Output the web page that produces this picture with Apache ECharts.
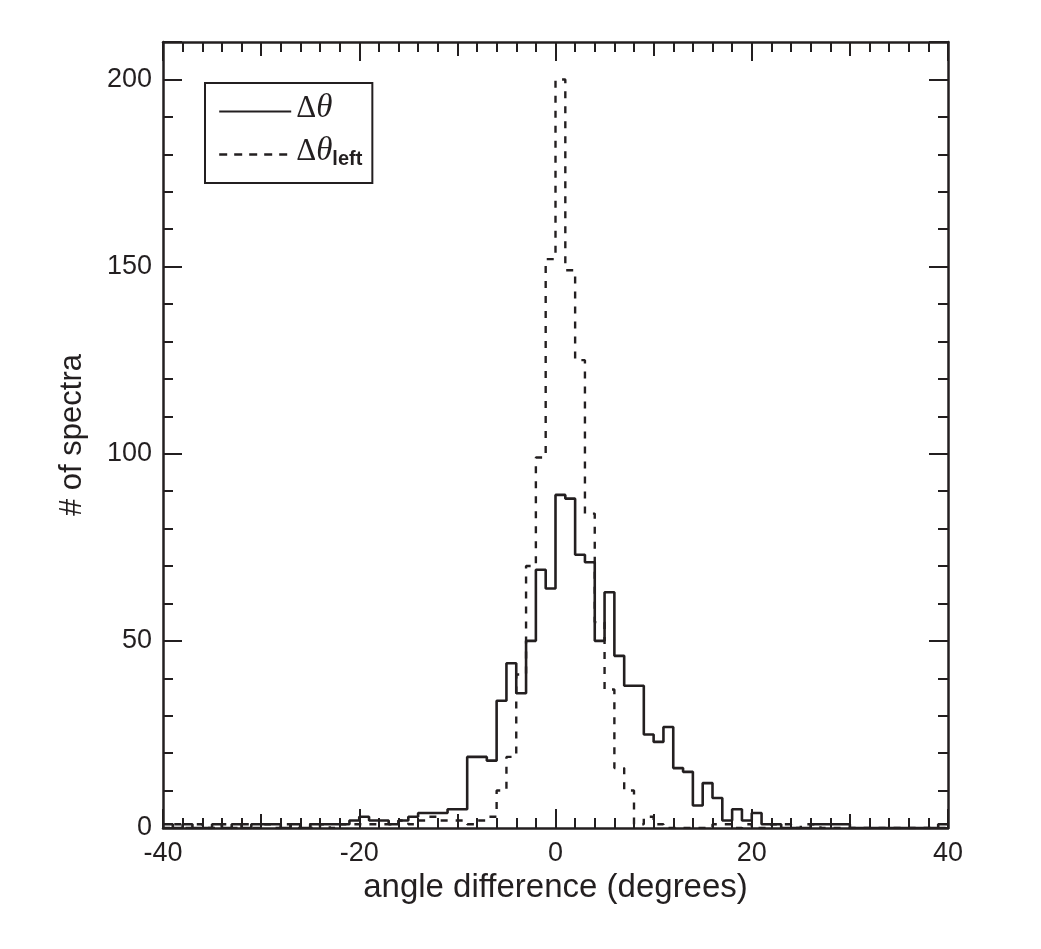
<!DOCTYPE html>
<html>
<head>
<meta charset="utf-8">
<script src="https://cdn.jsdelivr.net/npm/echarts@6/dist/echarts.min.js"></script>
<style>
html,body{margin:0;padding:0;background:#fff;}
#chart{width:1041px;height:949px;}
</style>
</head>
<body>
<div id="chart"></div>
<script>
// Histogram bins: 1-degree wide, from -40 to 40 (left edges)
var binStart = -40;
var binWidth = 1;
// Δθ counts per bin, bins [-40,-39] ... [39,40]
var deltaTheta = [
  1,0,1,0,0,1,0,1,0,1,      // -40 .. -31
  1,1,0,1,0,1,1,1,1,2,      // -30 .. -21
  3,2,2,1,2,3,4,4,4,5,      // -20 .. -11
  5,19,19,18,34,44,36,50,69,64, // -10 .. -1
  89,88,73,71,50,63,46,38,38,25, // 0 .. 9
  23,27,16,15,6,12,8,2,5,2,  // 10 .. 19
  4,1,1,0,0,0,1,1,1,1,       // 20 .. 29
  0,0,0,0,0,0,0,0,0,1        // 30 .. 39
];
// Δθ_left counts per bin
var deltaThetaLeft = [
  0,1,0,1,0,0,1,0,1,0,       // -40 .. -31
  1,0,1,0,1,0,1,0,1,1,       // -30 .. -21
  1,1,1,1,2,1,2,3,2,2,       // -20 .. -11
  2,1,2,3,10,19,41,70,99,152, // -10 .. -1
  200,149,125,84,55,37,16,10,1,3, // 0 .. 9
  1,0,0,0,0,0,1,1,0,1,       // 10 .. 19
  0,0,1,1,0,1,1,0,0,0,       // 20 .. 29
  0,0,0,0,0,0,0,0,0,0        // 30 .. 39
];
var xTickLabels = [-40, -20, 0, 20, 40];
var yTickLabels = [0, 50, 100, 150, 200];

function toSteps(vals) {
  var out = [];
  for (var i = 0; i < vals.length; i++) out.push([binStart + i * binWidth, vals[i]]);
  out.push([binStart + vals.length * binWidth, vals[vals.length - 1]]);
  return out;
}

var C = '#231f20';
var lab = {fontFamily: 'Liberation Sans', fontSize: 27, color: C};

function xAx(pos, interval, len, opts) {
  var a = {
    type: 'value', position: pos, min: -40, max: 40, interval: interval,
    axisLine: {show: false, onZero: false},
    axisTick: {show: true, inside: true, length: len, lineStyle: {color: C, width: 2}},
    axisLabel: {show: false},
    splitLine: {show: false}
  };
  for (var k in opts) a[k] = opts[k];
  return a;
}
function yAx(pos, interval, len, opts) {
  var a = {
    type: 'value', position: pos, min: 0, max: 210, interval: interval,
    axisLine: {show: false, onZero: false},
    axisTick: {show: true, inside: true, length: len, lineStyle: {color: C, width: 2}},
    axisLabel: {show: false},
    splitLine: {show: false}
  };
  for (var k in opts) a[k] = opts[k];
  return a;
}

var chart = echarts.init(document.getElementById('chart'), null, {renderer: 'canvas'});
var option = {
  animation: false,
  backgroundColor: '#fff',
  grid: {left: 163, right: 93, top: 42, bottom: 121, containLabel: false},
  xAxis: [
    xAx('bottom', 20, 19, {
      axisLine: {show: true, onZero: false, lineStyle: {color: C, width: 2.5}},
      axisLabel: {show: true, margin: 12, fontFamily: lab.fontFamily, fontSize: lab.fontSize, color: C,
        formatter: function (v) { return xTickLabels.indexOf(v) >= 0 ? String(v) : ''; }},
      name: 'angle difference (degrees)', nameLocation: 'middle', nameGap: 42,
      nameTextStyle: {fontFamily: 'Liberation Sans', fontSize: 33, color: C}
    }),
    xAx('bottom', 10, 14, {}),
    xAx('bottom', 2, 10, {}),
    xAx('top', 20, 19, {axisLine: {show: true, onZero: false, lineStyle: {color: C, width: 2.5}}}),
    xAx('top', 10, 14, {}),
    xAx('top', 2, 10, {})
  ],
  yAxis: [
    yAx('left', 50, 19, {
      axisLine: {show: true, onZero: false, lineStyle: {color: C, width: 2.5}},
      axisLabel: {show: true, margin: 11, fontFamily: lab.fontFamily, fontSize: lab.fontSize, color: C,
        formatter: function (v) { return yTickLabels.indexOf(v) >= 0 ? String(v) : ''; }},
      name: '# of spectra', nameLocation: 'middle', nameGap: 75,
      nameTextStyle: {fontFamily: 'Liberation Sans', fontSize: 31, color: C}
    }),
    yAx('left', 10, 10, {}),
    yAx('right', 50, 19, {axisLine: {show: true, onZero: false, lineStyle: {color: C, width: 2.5}}}),
    yAx('right', 10, 10, {})
  ],
  legend: {
    show: true,
    orient: 'vertical',
    left: 205, top: 83,
    padding: [9, 10, 9, 13],
    itemGap: 4,
    itemWidth: 72,
    itemHeight: 20,
    itemTextGap: 8,
    borderColor: C, borderWidth: 2, borderRadius: 0,
    backgroundColor: '#fff',
    itemStyle: {opacity: 0, borderWidth: 0},
    data: [
      {name: 'dtheta'},
      {name: 'dthetaleft', lineStyle: {type: [8, 7], width: 2.4}}
    ],
    formatter: function (name) {
      return name === 'dtheta' ? '{d|Δ}{t|θ}' : '{d|Δ}{t|θ}{s|left}';
    },
    textStyle: {
      color: C,
      rich: {
        d: {fontFamily: 'Liberation Serif', fontSize: 31, lineHeight: 30, padding: [0, 0, 6, 0], color: C},
        t: {fontFamily: 'Liberation Serif', fontStyle: 'italic', fontSize: 33, lineHeight: 30, padding: [0, 0, 6, 0], color: C},
        s: {fontFamily: 'Liberation Sans', fontWeight: 'bold', fontSize: 20, lineHeight: 20, verticalAlign: 'bottom', color: C}
      }
    }
  },
  series: [
    {
      name: 'dtheta', type: 'line', step: 'end', xAxisIndex: 0, yAxisIndex: 0,
      symbol: 'none', data: toSteps(deltaTheta),
      lineStyle: {color: C, width: 2.6, type: 'solid'},
      itemStyle: {color: C}
    },
    {
      name: 'dthetaleft', type: 'line', step: 'end', xAxisIndex: 0, yAxisIndex: 0,
      symbol: 'none', data: toSteps(deltaThetaLeft),
      lineStyle: {color: C, width: 2.4, type: [7, 8]},
      itemStyle: {color: C}
    }
  ]
};
chart.setOption(option);
</script>
</body>
</html>
